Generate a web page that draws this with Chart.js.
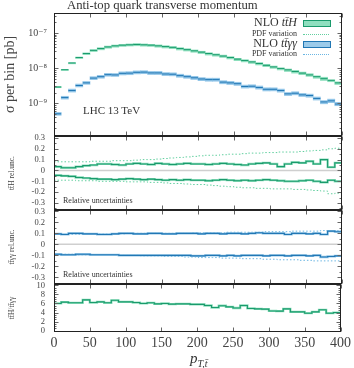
<!DOCTYPE html>
<html><head><meta charset="utf-8">
<script src="https://cdn.jsdelivr.net/npm/chart.js@4/dist/chart.umd.min.js"></script>
<style>
html,body{margin:0;padding:0;background:#fff;}
#wrap{position:relative;width:354px;height:368px;overflow:hidden;font-family:'Liberation Serif','DejaVu Serif',serif;color:#333;}
canvas{position:absolute;left:0;top:0;}
.t{position:absolute;white-space:nowrap;line-height:1;}
</style></head>
<body><div id="wrap">
<canvas id="c1" width="354" height="368"></canvas>
<canvas id="c2" width="354" height="368"></canvas>
<canvas id="c3" width="354" height="368"></canvas>
<canvas id="c4" width="354" height="368"></canvas>
<div class="t" style="left:67px;top:-1px;font-size:12.7px;">Anti-top quark transverse momentum</div>
<div class="t" style="right:57px;top:16px;font-size:12px;">NLO <i>tt̄H</i></div>
<div class="t" style="right:57px;top:29.6px;font-size:8px;">PDF variation</div>
<div class="t" style="right:57px;top:37.4px;font-size:12px;">NLO <i>tt̄γγ</i></div>
<div class="t" style="right:57px;top:49.9px;font-size:8px;">PDF variation</div>
<div style="position:absolute;left:303px;top:19.5px;width:26px;height:5px;background:#8fdfbf;border:1.3px solid #1a9a6c;"></div>
<div style="position:absolute;left:303px;top:33.5px;width:26px;height:0;border-top:1px dotted #62cf9f;"></div>
<div style="position:absolute;left:303px;top:40.5px;width:26px;height:5px;background:#9ccbea;border:1.3px solid #2177b4;"></div>
<div style="position:absolute;left:303px;top:53.5px;width:26px;height:0;border-top:1px dotted #6ab6e3;"></div>
<div class="t" style="left:83px;top:104.5px;font-size:11px;">LHC 13 TeV</div>
<div class="t" style="left:63px;top:197px;font-size:8px;">Relative uncertainties</div>
<div class="t" style="left:63px;top:270.6px;font-size:8px;">Relative uncertainties</div>
<div class="t" style="left:190px;top:351px;font-size:15px;"><i>p</i><sub style="font-size:10px;"><i>T,t̄</i></sub></div>
</div>
<script>
// ---- data ----
const binEdges = [0,10,20,30,40,50,60,70,80,90,100,110,120,130,140,150,160,170,180,190,200,210,220,230,240,250,260,270,280,290,300,310,320,330,340,350,360,370,380,390,400];
const ttH_nlo = [2.9e-9,9.0e-9,1.4e-8,2.0e-8,2.6e-8,3.2e-8,3.6e-8,4.0e-8,4.3e-8,4.5e-8,4.6e-8,4.7e-8,4.6e-8,4.5e-8,4.3e-8,4.1e-8,3.9e-8,3.6e-8,3.35e-8,3.1e-8,2.85e-8,2.6e-8,2.4e-8,2.2e-8,2.0e-8,1.8e-8,1.65e-8,1.5e-8,1.35e-8,1.2e-8,1.08e-8,9.8e-9,8.9e-9,8.0e-9,7.2e-9,6.4e-9,5.7e-9,5.0e-9,4.5e-9,3.8e-9];
const tta_nlo = [5.0e-10,1.45e-9,2.3e-9,3.2e-9,3.8e-9,5.2e-9,5.7e-9,6.5e-9,6.4e-9,7.1e-9,7.2e-9,7.6e-9,7.7e-9,7.3e-9,7.3e-9,6.8e-9,6.7e-9,6.1e-9,5.7e-9,5.3e-9,4.9e-9,4.7e-9,4.7e-9,4.0e-9,3.8e-9,3.6e-9,3.0e-9,3.05e-9,2.8e-9,2.5e-9,2.5e-9,2.3e-9,1.85e-9,1.93e-9,1.73e-9,1.66e-9,1.37e-9,1.09e-9,1.17e-9,9.5e-10];
const ttH_scaleUp = [0.035,0.025,0.025,0.035,0.045,0.05,0.06,0.06,0.055,0.05,0.06,0.065,0.06,0.055,0.065,0.06,0.055,0.06,0.065,0.06,0.06,0.055,0.06,0.065,0.06,0.055,0.05,0.06,0.065,0.07,0.06,0.035,0.06,0.075,0.07,0.085,0.06,0.1,0.03,0.07];
const ttH_scaleDn = [-0.045,-0.05,-0.055,-0.065,-0.07,-0.075,-0.08,-0.08,-0.085,-0.08,-0.075,-0.08,-0.085,-0.08,-0.085,-0.09,-0.085,-0.09,-0.085,-0.09,-0.09,-0.095,-0.09,-0.085,-0.09,-0.095,-0.09,-0.095,-0.09,-0.085,-0.09,-0.095,-0.1,-0.1,-0.095,-0.09,-0.1,-0.11,-0.09,-0.1];
const ttH_pdfUp = [0.08,0.08,0.08,0.08,0.08,0.085,0.085,0.085,0.09,0.09,0.09,0.095,0.1,0.1,0.105,0.11,0.115,0.12,0.125,0.13,0.135,0.14,0.14,0.145,0.15,0.15,0.155,0.16,0.16,0.165,0.165,0.17,0.17,0.17,0.175,0.18,0.185,0.19,0.2,0.205];
const ttH_pdfDn = [-0.09,-0.09,-0.09,-0.095,-0.095,-0.095,-0.1,-0.1,-0.1,-0.1,-0.105,-0.105,-0.105,-0.11,-0.11,-0.115,-0.12,-0.12,-0.125,-0.13,-0.13,-0.135,-0.14,-0.145,-0.15,-0.155,-0.16,-0.16,-0.165,-0.165,-0.17,-0.17,-0.17,-0.175,-0.175,-0.18,-0.185,-0.19,-0.215,-0.21];
const tta_scaleUp = [0.095,0.09,0.1,0.1,0.095,0.095,0.09,0.09,0.095,0.1,0.1,0.095,0.095,0.1,0.1,0.095,0.095,0.1,0.1,0.1,0.095,0.1,0.1,0.095,0.1,0.1,0.095,0.1,0.105,0.1,0.1,0.1,0.09,0.1,0.1,0.095,0.1,0.09,0.12,0.115];
const tta_scaleDn = [-0.09,-0.095,-0.095,-0.09,-0.09,-0.095,-0.095,-0.095,-0.095,-0.1,-0.1,-0.1,-0.1,-0.1,-0.1,-0.1,-0.1,-0.1,-0.1,-0.105,-0.105,-0.1,-0.1,-0.105,-0.1,-0.105,-0.1,-0.1,-0.1,-0.105,-0.1,-0.1,-0.105,-0.1,-0.1,-0.105,-0.1,-0.115,-0.11,-0.105];
const tta_pdfUp = [0.09,0.09,0.09,0.09,0.09,0.095,0.095,0.095,0.095,0.095,0.1,0.1,0.1,0.1,0.1,0.1,0.1,0.1,0.1,0.105,0.105,0.105,0.105,0.105,0.11,0.11,0.11,0.11,0.11,0.115,0.115,0.115,0.115,0.12,0.12,0.12,0.12,0.125,0.125,0.125];
const tta_pdfDn = [-0.09,-0.09,-0.09,-0.095,-0.095,-0.095,-0.095,-0.1,-0.1,-0.1,-0.1,-0.1,-0.105,-0.105,-0.105,-0.11,-0.11,-0.11,-0.115,-0.115,-0.12,-0.12,-0.12,-0.125,-0.125,-0.125,-0.13,-0.13,-0.13,-0.135,-0.135,-0.14,-0.14,-0.14,-0.145,-0.145,-0.15,-0.15,-0.15,-0.15];
const ratio_ttH_tta = [6.0,6.3,6.15,6.15,6.8,6.2,6.35,6.15,6.7,6.35,6.35,6.2,6.0,6.15,5.9,6.0,5.85,5.9,5.9,5.8,5.8,5.55,5.1,5.5,5.25,5.0,5.55,4.9,4.8,4.75,4.35,4.3,4.8,4.15,4.15,3.85,4.15,4.6,3.85,4.0];
const xTickVals = [0,50,100,150,200,250,300,350,400];
const mainYTicks = [1e-9,1e-8,1e-7];
const mainYLabels = ['10\u207B\u2079','10\u207B\u2078','10\u207B\u2077'];
const relYTicks = [-0.3,-0.2,-0.1,0,0.1,0.2,0.3];
const relYLabels = ['-0.3','-0.2','-0.1','0','0.1','0.2','0.3'];
const ratioYTicks = [0,2,4,6,8,10];
const ratioYLabels = ['0','2','4','6','8','10'];

// ---- styling ----
const SERIF = "'Liberation Serif','DejaVu Serif',serif";
const G_DARK='#1a9a6c', G_LIGHT='#8ddfbd', G_PDF='#62cf9f';
const B_DARK='#2177b4', B_LIGHT='#93c6e8', B_PDF='#6ab6e3';
const W=354, H=368, LEFT=54, RIGHT=342;

const frameTicks = {
  id:'frameTicks',
  afterDatasetsDraw(chart, args, o){
    const {ctx, chartArea:a} = chart; const xs=chart.scales.x, ys=chart.scales.y;
    ctx.save(); ctx.lineWidth=1; ctx.strokeStyle='#666';
    const seg=(x1,y1,x2,y2)=>{ctx.beginPath();ctx.moveTo(x1,y1);ctx.lineTo(x2,y2);ctx.stroke();};
    const L=Math.round(a.left)+0.5, R=Math.round(a.right)-0.5, T=Math.round(a.top)+0.5, B=Math.round(a.bottom)-0.5;
    const xt=(vals,len)=>vals.forEach(v=>{const p=Math.round(xs.getPixelForValue(v))+0.5; seg(p,B,p,B-len); seg(p,T,p,T+len);});
    const yt=(vals,len)=>vals.forEach(v=>{const p=Math.round(ys.getPixelForValue(v))+0.5; if(p<T||p>B)return; seg(L,p,L+len,p); seg(R,p,R-len,p);});
    xt(o.xMajor||[],4); yt(o.yMajor||[],4); yt(o.yMinor||[],2);
    ctx.strokeStyle='#222'; ctx.strokeRect(L,T,R-L,B-T);
    ctx.restore();
  }
};
Chart.register(frameTicks);

function yScale(type,min,max,ticks,labels,title,tFont,tPad,kFont,kPad){
  return {type,min,max,position:'left',
    afterBuildTicks:s=>{s.ticks=ticks.map(v=>({value:v}));},
    afterFit:s=>{s.width=LEFT;},
    grid:{display:false,drawTicks:false}, border:{display:false},
    ticks:{autoSkip:false,maxRotation:0,padding:kPad,color:'#444',font:{family:SERIF,size:kFont},callback:(v,i)=>labels[i]},
    title:{display:true,text:title,color:'#444',font:{family:SERIF,size:tFont},padding:{top:tPad,bottom:0}}
  };
}
const xHidden = {type:'linear',min:0,max:400,display:false,offset:false};
function stepData(vals){ const d=vals.map((v,i)=>({x:binEdges[i],y:v})); d.push({x:binEdges[vals.length],y:vals[vals.length-1]}); return d; }
function segData(vals){ const d=[]; vals.forEach((v,i)=>{d.push({x:binEdges[i],y:v},{x:binEdges[i+1],y:v},{x:binEdges[i+1],y:null});}); return d; }
function bandData(vals,up,dn){ return vals.map((v,i)=>({x:(binEdges[i]+binEdges[i+1])/2,y:[v*(1+dn[i]),v*(1+up[i])]})); }
const L=(data,color,width,extra)=>Object.assign({type:'line',data,borderColor:color,borderWidth:width,pointRadius:0,fill:false,spanGaps:false},extra||{});
const stepL=(vals,color,width,extra)=>L(stepData(vals),color,width,Object.assign({stepped:'before'},extra||{}));
const common = {responsive:false,animation:false,events:[],plugins:{legend:{display:false},tooltip:{enabled:false}}};
function minorLog(){const m=[];for(let e=-10;e<=-7;e++)for(let k=2;k<=9;k++)m.push(k*Math.pow(10,e));return m;}

// ---- panel 1 ----
new Chart(document.getElementById('c1'),{
  type:'bar',
  data:{datasets:[
    L(segData(ttH_nlo),G_DARK,1),
    L(segData(tta_nlo),B_DARK,1),
    {type:'bar',data:bandData(ttH_nlo,ttH_scaleUp,ttH_scaleDn),backgroundColor:G_LIGHT,borderWidth:0,barPercentage:1,categoryPercentage:1,grouped:false},
    {type:'bar',data:bandData(tta_nlo,tta_scaleUp,tta_scaleDn),backgroundColor:B_LIGHT,borderWidth:0,barPercentage:1,categoryPercentage:1,grouped:false}
  ]},
  options:Object.assign({},common,{
    layout:{padding:{left:0,right:W-RIGHT,top:13,bottom:H-136}},
    scales:{x:xHidden,y:yScale('logarithmic',1.17e-10,3.7e-7,mainYTicks,mainYLabels,'\u03C3 per bin [pb]',14,1.6,10,7)},
    plugins:Object.assign({},common.plugins,{frameTicks:{xMajor:xTickVals,yMajor:mainYTicks,yMinor:minorLog()}})
  })
});

// ---- panels 2,3 ----
function relPanel(id,top,bottom,min,max,title,dark,light,pdf,up,dn,pu,pd){
  new Chart(document.getElementById(id),{
    type:'line',
    data:{datasets:[
      stepL(up,dark,1.1), stepL(dn,dark,1.1),
      stepL(up,light,2.3), stepL(dn,light,2.3),
      stepL(pu,pdf,1,{borderDash:[1.5,2]}), stepL(pd,pdf,1,{borderDash:[1.5,2]}),
      L([{x:binEdges[0],y:0},{x:binEdges[binEdges.length-1],y:0}],'#cfcfcf',1.5)
    ]},
    options:Object.assign({},common,{
      layout:{padding:{left:0,right:W-RIGHT,top:top,bottom:H-bottom}},
      scales:{x:xHidden,y:yScale('linear',min,max,relYTicks,relYLabels,title,7.5,7.5,8.5,9)},
      plugins:Object.assign({},common.plugins,{frameTicks:{xMajor:xTickVals,yMajor:relYTicks,yMinor:[-0.35,-0.25,-0.15,-0.05,0.05,0.15,0.25]}})
    })
  });
}
relPanel('c2',136,210,-0.365,0.318,'tt\u0304H rel.unc.',G_DARK,G_LIGHT,G_PDF,ttH_scaleUp,ttH_scaleDn,ttH_pdfUp,ttH_pdfDn);
relPanel('c3',210,284,-0.36,0.312,'tt\u0304\u03B3\u03B3 rel.unc.',B_DARK,B_LIGHT,B_PDF,tta_scaleUp,tta_scaleDn,tta_pdfUp,tta_pdfDn);

// ---- panel 4 ----
const ratioMinor=[]; for(let v=0.5;v<10.3;v+=0.5){ if(v%2!==0) ratioMinor.push(v); }
new Chart(document.getElementById('c4'),{
  type:'line',
  data:{datasets:[
    stepL(ratio_ttH_tta,G_DARK,1.1),
    stepL(ratio_ttH_tta,G_LIGHT,2.3)
  ]},
  options:Object.assign({},common,{
    layout:{padding:{left:0,right:W-RIGHT,top:284,bottom:6}},
    scales:{
      x:{type:'linear',min:0,max:400,offset:false,position:'bottom',
        afterBuildTicks:s=>{s.ticks=xTickVals.map(v=>({value:v}));},
        afterFit:s=>{s.height=H-332-6;},
        grid:{display:false,drawTicks:false},border:{display:false},
        ticks:{autoSkip:false,maxRotation:0,padding:3,color:'#444',font:{family:SERIF,size:14},callback:(v,i)=>String(xTickVals[i])}},
      y:yScale('linear',-0.3,10.3,ratioYTicks,ratioYLabels,'tt\u0304H/tt\u0304\u03B3\u03B3',7.5,7.5,8.5,9)
    },
    plugins:Object.assign({},common.plugins,{frameTicks:{xMajor:xTickVals,yMajor:ratioYTicks,yMinor:ratioMinor}})
  })
});
</script>
</body></html>
